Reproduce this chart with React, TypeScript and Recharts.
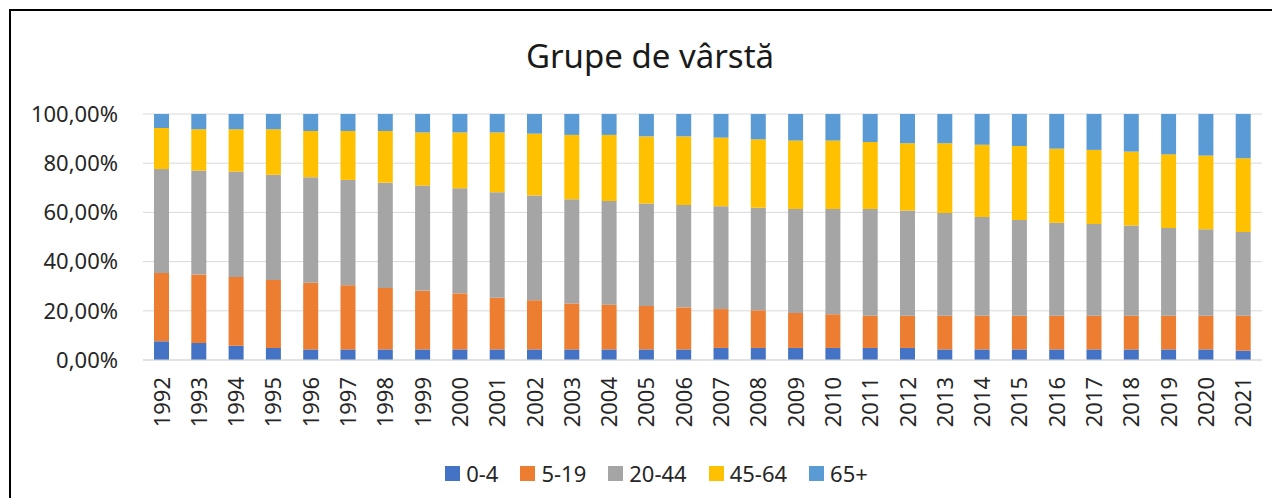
import { BarChart, Bar, XAxis, YAxis, CartesianGrid, Legend } from 'recharts'

const years = ['1992', '1993', '1994', '1995', '1996', '1997', '1998', '1999', '2000', '2001', '2002', '2003', '2004', '2005', '2006', '2007', '2008', '2009', '2010', '2011', '2012', '2013', '2014', '2015', '2016', '2017', '2018', '2019', '2020', '2021']
const age04 = [7.6, 6.9, 5.8, 4.9, 4.3, 4.3, 4.3, 4.3, 4.3, 4.3, 4.3, 4.3, 4.3, 4.3, 4.3, 4.9, 4.9, 4.9, 4.9, 4.9, 4.9, 4.3, 4.3, 4.3, 4.3, 4.3, 4.3, 4.3, 4.3, 3.8]
const age519 = [27.8, 27.9, 27.9, 27.6, 27.1, 26.1, 25.0, 23.8, 22.8, 21.0, 20.0, 18.7, 18.2, 17.7, 17.1, 15.8, 15.3, 14.2, 13.7, 13.1, 13.1, 13.7, 13.7, 13.7, 13.7, 13.7, 13.7, 13.7, 13.7, 14.2]
const age2044 = [42.2, 42.2, 42.9, 42.8, 42.9, 42.8, 42.8, 42.8, 42.7, 42.9, 42.6, 42.3, 42.1, 41.6, 41.6, 41.8, 41.7, 42.3, 42.8, 43.4, 42.8, 41.8, 40.1, 38.9, 37.8, 37.3, 36.7, 35.7, 35.1, 34.0]
const age4564 = [16.7, 16.8, 17.2, 18.5, 18.8, 19.9, 21.0, 21.6, 22.7, 24.3, 25.1, 26.2, 26.9, 27.3, 27.9, 27.9, 27.8, 27.8, 27.8, 27.2, 27.3, 28.3, 29.4, 30.1, 30.1, 30.1, 30.0, 29.9, 30.0, 30.0]
const age65 = [5.7, 6.2, 6.2, 6.2, 6.9, 6.9, 6.9, 7.5, 7.5, 7.5, 8.0, 8.5, 8.5, 9.1, 9.1, 9.6, 10.3, 10.8, 10.8, 11.4, 11.9, 11.9, 12.5, 13.0, 14.1, 14.6, 15.3, 16.4, 16.9, 18.0]
const yTicks = [0, 0.2, 0.4, 0.6, 0.8, 1]

const series = [
  { key: '0-4', color: '#4472C4' },
  { key: '5-19', color: '#ED7D31' },
  { key: '20-44', color: '#A5A5A5' },
  { key: '45-64', color: '#FFC000' },
  { key: '65+', color: '#5B9BD5' },
]

const data = years.map((y, i) => ({
  year: y,
  '0-4': age04[i],
  '5-19': age519[i],
  '20-44': age2044[i],
  '45-64': age4564[i],
  '65+': age65[i],
}))

const font = '"Noto Sans", sans-serif'
const textColor = '#262626'

function YearTick({ x, y, payload }: any) {
  return (
    <g transform={`translate(${x},${y})`}>
      <text transform="rotate(-90)" textAnchor="end" dy="0.36em" fill={textColor} fontSize={22} fontFamily={font}>
        {payload.value}
      </text>
    </g>
  )
}

function LegendBox() {
  return (
    <div style={{ boxSizing: 'border-box', paddingLeft: 62, paddingBottom: 10, height: 40, display: 'flex', justifyContent: 'center', alignItems: 'center', fontFamily: font, fontSize: 22, color: textColor }}>
      {series.map((s) => (
        <div key={s.key} style={{ display: 'flex', alignItems: 'center', marginRight: 22 }}>
          <span style={{ width: 15, height: 15, background: s.color, marginRight: 6, display: 'inline-block' }} />
          <span>{s.key}</span>
        </div>
      ))}
    </div>
  )
}

export default function App() {
  return (
    <div style={{ position: 'relative', width: 1263, height: 487, margin: '1px 0 0 1px', borderTop: '2px solid #000', borderLeft: '2px solid #000', overflow: 'hidden', background: '#fff' }}>
      <div style={{ position: 'absolute', top: 29, left: 0, width: 1278, textAlign: 'center', fontFamily: font, fontSize: 33, lineHeight: '32px', color: '#1a1a1a' }}>
        Grupe de vârstă
      </div>
      <BarChart width={1263} height={487} data={data} stackOffset="expand" margin={{ top: 103, right: 12, bottom: 0, left: 0 }} barSize={15}>
        <CartesianGrid vertical={false} stroke="#d9d9d9" />
        <XAxis dataKey="year" height={98} interval={0} tickLine={false} tickMargin={11} stroke="#d9d9d9" tick={<YearTick />} />
        <YAxis width={132} domain={[0, 1]} ticks={yTicks} axisLine={false} tickLine={false} tickMargin={19} tick={{ fill: textColor, fontSize: 22, fontFamily: font }} tickFormatter={(v: number) => (v * 100).toFixed(2).replace('.', ',') + '%'} />
        <Legend verticalAlign="bottom" height={40} content={<LegendBox />} />
        {series.map((s) => (
          <Bar key={s.key} dataKey={s.key} stackId="a" fill={s.color} isAnimationActive={false} />
        ))}
      </BarChart>
    </div>
  )
}
